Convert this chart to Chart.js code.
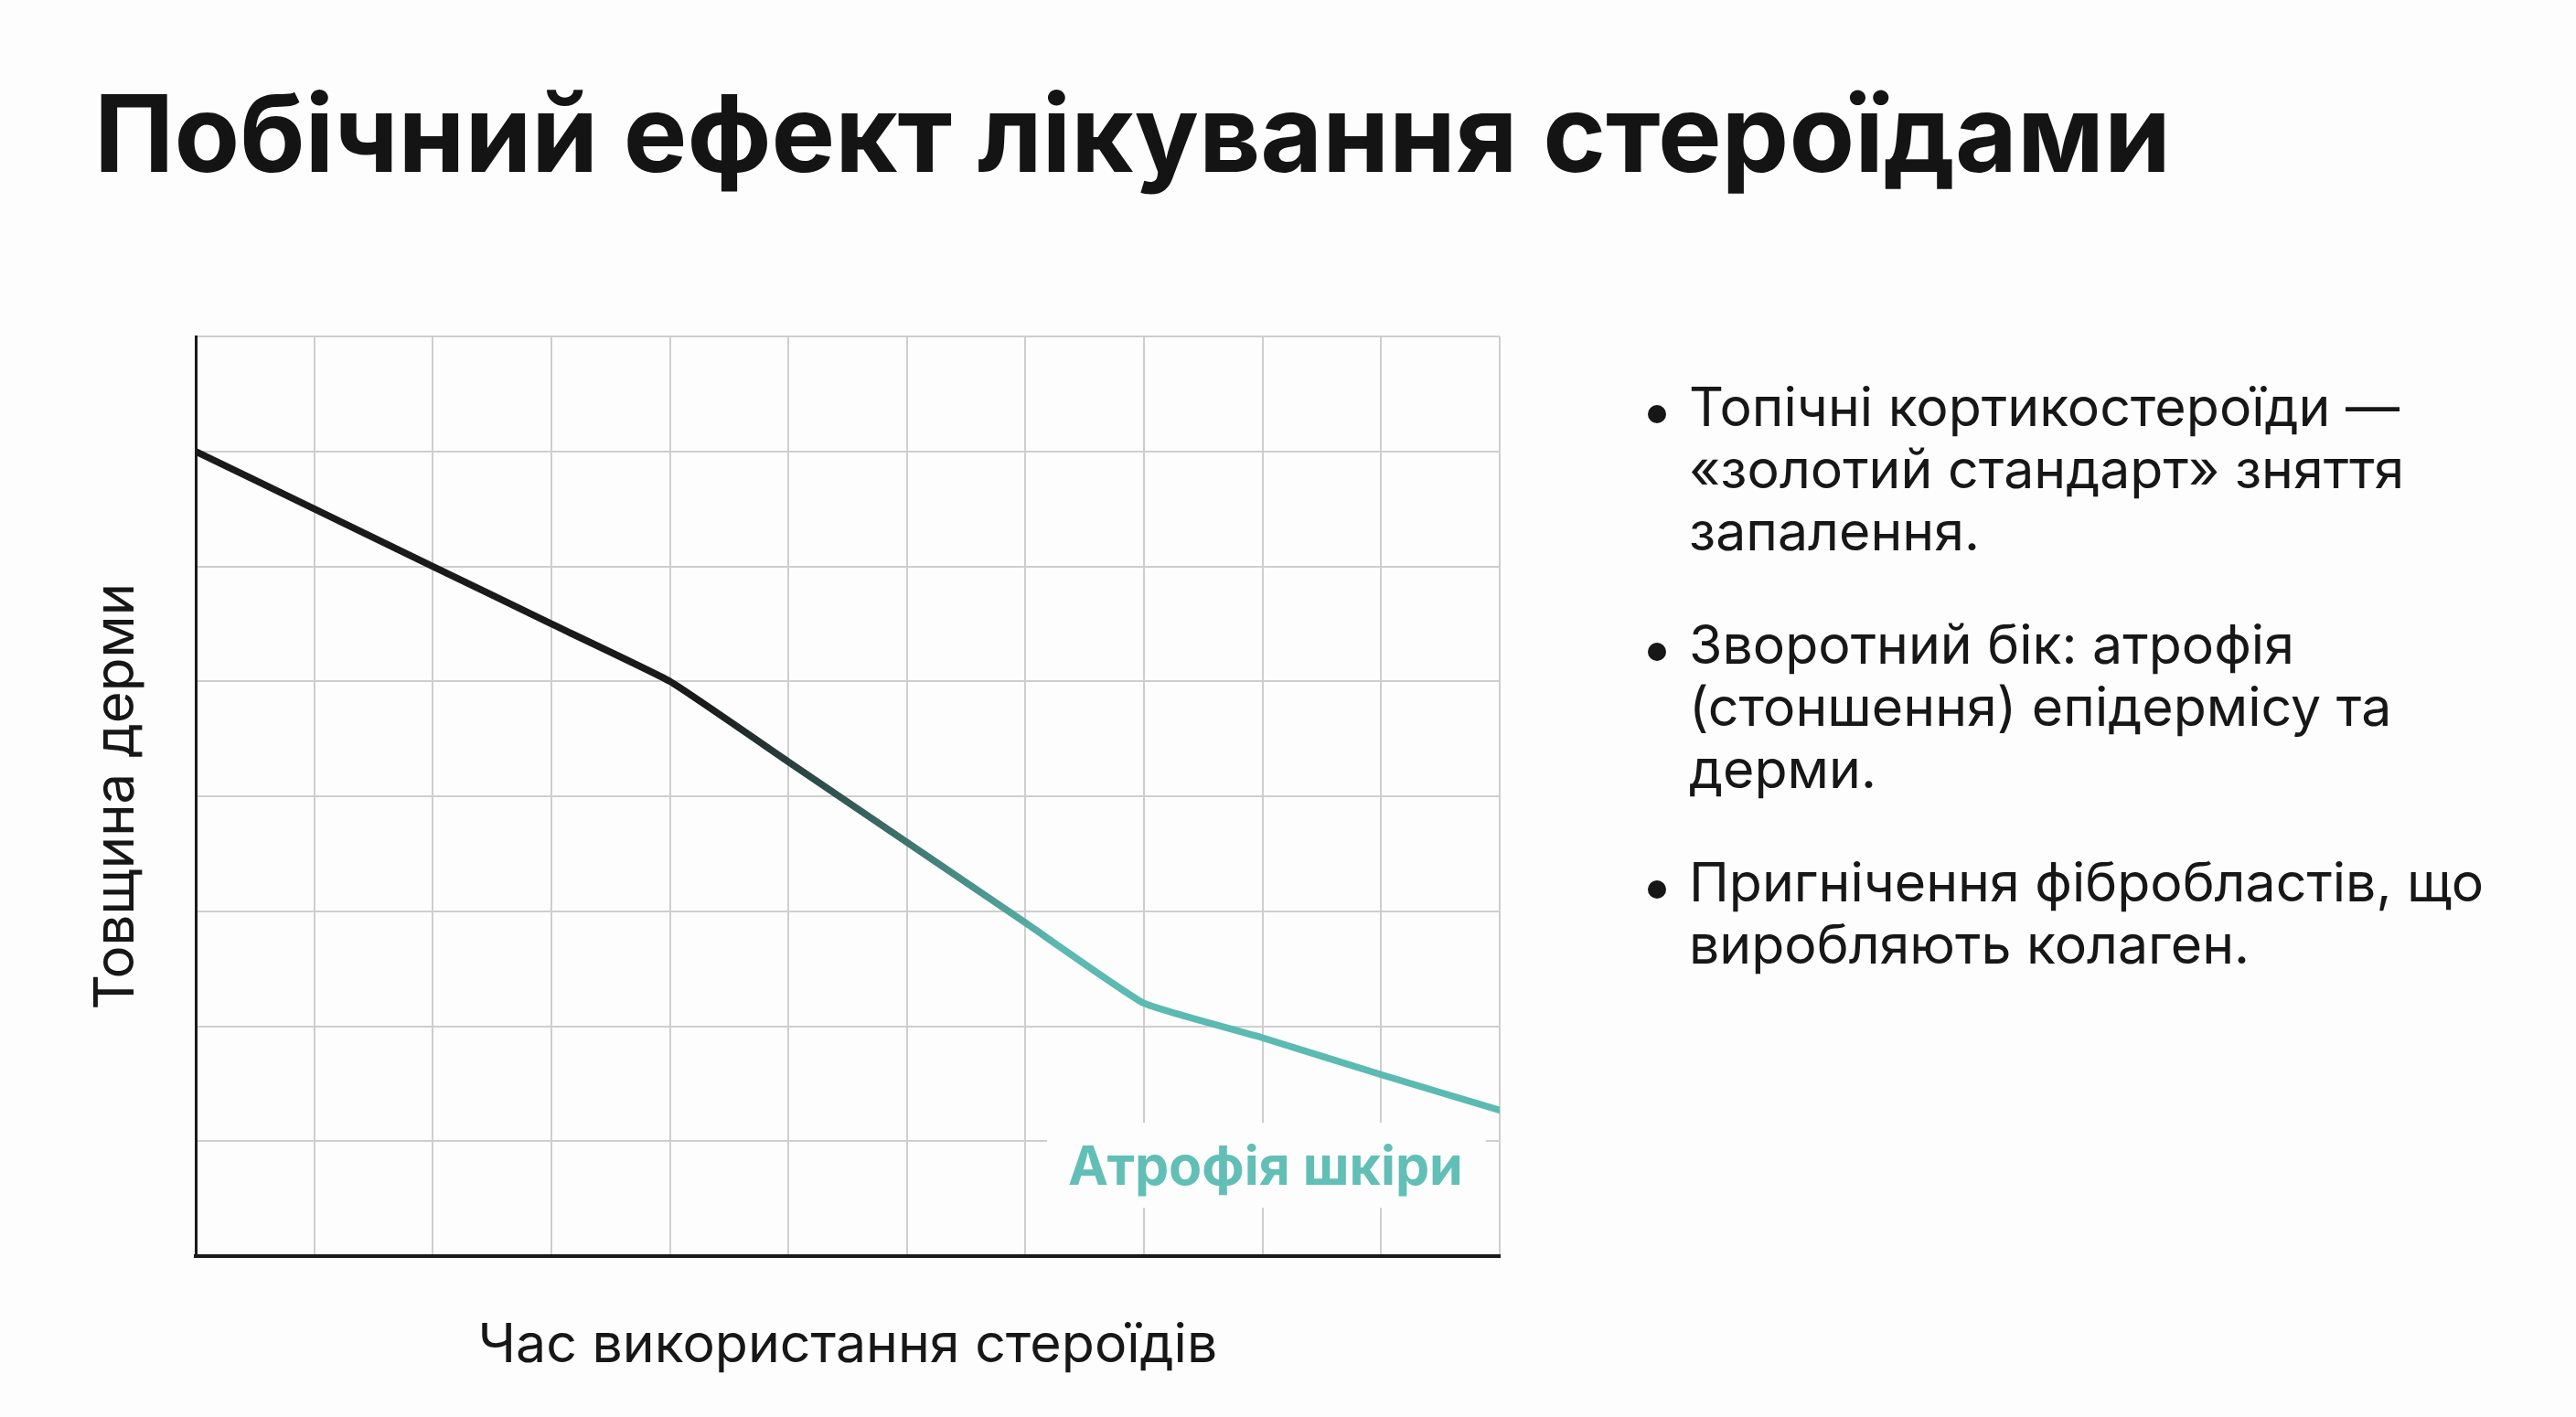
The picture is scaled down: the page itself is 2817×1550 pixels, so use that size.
<!DOCTYPE html>
<html lang="uk">
<head>
<meta charset="utf-8">
<title>Побічний ефект лікування стероїдами</title>
<script src="https://cdn.jsdelivr.net/npm/chart.js@4.4.1/dist/chart.umd.min.js"></script>
<style>
  html, body { margin: 0; padding: 0; background: #fdfdfd; }
  body {
    width: 2817px; height: 1550px; position: relative; overflow: hidden;
    font-family: Inter, "Noto Sans", sans-serif; color: #171717;
  }
  #chart { position: absolute; left: 0; top: 0; }
  h1 {
    position: absolute; left: 103px; top: 87px; margin: 0;
    font-size: 117px; line-height: 1; font-weight: 700; letter-spacing: 0px;
    white-space: nowrap; color: #141414;
  }
  ul.notes {
    position: absolute; left: 1847px; top: 411px; margin: 0; padding: 0;
    list-style: none; font-size: 59px; line-height: 68px; white-space: nowrap;
  }
  ul.notes li { position: relative; margin-bottom: 56px; }
  ul.notes li::before {
    content: ""; position: absolute; left: -45px; top: 32px;
    width: 20px; height: 20px; border-radius: 50%; background: #171717;
  }
</style>
</head>
<body>
<h1>Побічний ефект лікування стероїдами</h1>
<canvas id="chart" width="2817" height="1550"></canvas>
<ul class="notes">
  <li>Топічні кортикостероїди —<br>«золотий стандарт» зняття<br>запалення.</li>
  <li>Зворотний бік: атрофія<br>(стоншення) епідермісу та<br>дерми.</li>
  <li>Пригнічення фібробластів, що<br>виробляють колаген.</li>
</ul>
<script>
// time of steroid use (arbitrary steps) and dermis thickness
const timeSteps = [0, 1, 2, 3, 4, 5, 6, 7, 8, 9, 10, 11];
const dermisThickness = [7, 6.5, 6, 5.5, 5, 4.3, 3.6, 2.9, 2.2, 1.9, 1.58, 1.27];

const xTitle = "Час використання стероїдів";
const yTitle = "Товщина дерми";
const atrophyText = "Атрофія шкіри";

// where the line turns from black to teal (in x units)
const fadeFrom = 4.3;
const fadeTo = 7.3;

const darkColor = "#1a1a1a";
const tealColor = "#5bbab1";
const labelColor = "#62bfb6";
const gridColor = "#cecece";

function lineGradient(context) {
  const chart = context.chart;
  const { ctx, chartArea, scales } = chart;
  if (!chartArea || !scales.x) return darkColor;
  const x0 = scales.x.getPixelForValue(fadeFrom);
  const x1 = scales.x.getPixelForValue(fadeTo);
  const g = ctx.createLinearGradient(x0, 0, x1, 0);
  g.addColorStop(0, darkColor);
  g.addColorStop(1, tealColor);
  return g;
}

// text label in the lower right corner, on a white patch over the grid
const atrophyLabel = {
  id: "atrophyLabel",
  beforeDatasetsDraw(chart) {
    const { ctx, scales: { x, y } } = chart;
    ctx.save();
    ctx.font = "700 59px Inter";
    const w = ctx.measureText(atrophyText).width;
    const right = x.getPixelForValue(10.69);
    const base = y.getPixelForValue(0.62);
    const left = right - w;
    ctx.fillStyle = "#fdfdfd";
    ctx.fillRect(left - 23, base - 68, w + 48, 93);
    ctx.fillStyle = labelColor;
    ctx.textBaseline = "alphabetic";
    ctx.fillText(atrophyText, left, base);
    ctx.restore();
  }
};

new Chart(document.getElementById("chart"), {
  type: "line",
  data: {
    datasets: [{
      data: timeSteps.map((t, i) => ({ x: t, y: dermisThickness[i] })),
      borderColor: lineGradient,
      borderWidth: 7.5,
      tension: 0.12,
      pointRadius: 0,
      fill: false,
      borderCapStyle: "round",
      borderJoinStyle: "round"
    }]
  },
  options: {
    responsive: false,
    animation: false,
    devicePixelRatio: 1,
    layout: { padding: { left: 91.5, top: 368, right: 1177, bottom: 42 } },
    plugins: { legend: { display: false }, tooltip: { enabled: false } },
    scales: {
      x: {
        type: "linear", min: 0, max: 11,
        ticks: { display: false, stepSize: 1 },
        grid: { color: gridColor, lineWidth: 2, drawTicks: false },
        border: { color: darkColor, width: 4 },
        title: {
          display: true, text: xTitle, color: "#171717",
          font: { family: "Inter", size: 59, weight: "400" },
          padding: { top: 63, bottom: 0 }
        }
      },
      y: {
        type: "linear", min: 0, max: 8,
        ticks: { display: false, stepSize: 1 },
        grid: { color: gridColor, lineWidth: 2, drawTicks: false },
        border: { color: darkColor, width: 3 },
        title: {
          display: true, text: yTitle, color: "#171717",
          font: { family: "Inter", size: 60, weight: "400" },
          padding: { top: 0, bottom: 50.5 }
        }
      }
    }
  },
  plugins: [atrophyLabel]
});
</script>
</body>
</html>
